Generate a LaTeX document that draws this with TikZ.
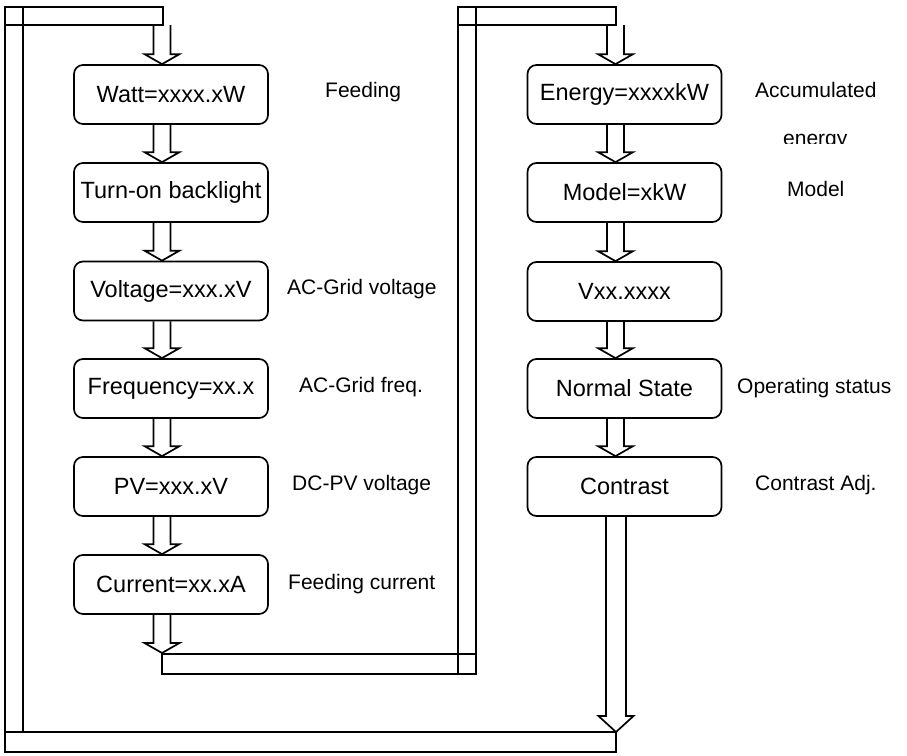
\documentclass[tikz,border=0pt]{standalone}
\usepackage{fontspec}
\setmainfont{Liberation Sans}
\usetikzlibrary{calc}
\tikzset{
  box/.style={draw, line width=1.7pt, rounded corners=9pt, minimum width=194pt, minimum height=59pt, inner sep=0pt, font=\fontsize{23.5}{28}\selectfont},
  lbl/.style={anchor=base west, inner sep=0pt, font=\fontsize{21}{25}\selectfont},
  band/.style={draw, line width=1.7pt, line join=miter},
}
% hollow arrow: #1 start point (only y used), #2 tip point, #3 shaft half width, #4 head length
\newcommand{\harr}[4]{%
  \draw[band] let \p1=(#1), \p2=(#2) in
    (\x2-#3pt,\y1) -- (\x2-#3pt,\y2+#4pt) -- (\x2-17.5pt,\y2+#4pt) -- (\x2,\y2)
    -- (\x2+17.5pt,\y2+#4pt) -- (\x2+#3pt,\y2+#4pt) -- (\x2+#3pt,\y1);}
\begin{document}
\begin{tikzpicture}[x=1pt,y=-1pt]
\useasboundingbox (0,0) rectangle (907,755);
\fill[white] (0,0) rectangle (907,755);

% left column
\node[box] (w1) at (171,94.5)  {Watt=xxxx.xW};
\node[box] (w2) at (171,192.5) {Turn-on backlight};
\node[box] (w3) at (171,291)   {Voltage=xxx.xV};
\node[box] (w4) at (171,388.5) {Frequency=xx.x};
\node[box] (w5) at (171,486.5) {PV=xxx.xV};
\node[box] (w6) at (171,584.5) {Current=xx.xA};

% right column
\node[box] (r1) at (624.5,94.5)  {Energy=xxxxkW};
\node[box] (r2) at (624.5,192.5) {Model=xkW};
\node[box] (r3) at (624.5,291.5) {Vxx.xxxx};
\node[box] (r4) at (624.5,388.5) {Normal State};
\node[box] (r5) at (624.5,486.5) {Contrast};

% side labels
\node[lbl] (l1) at (325,97)  {Feeding};
\node[lbl] (l2) at (287,294) {AC-Grid voltage};
\node[lbl] (l3) at (299,392) {AC-Grid freq.};
\node[lbl] (l4) at (292,490) {DC-PV voltage};
\node[lbl] (l5) at (288,589) {Feeding current};
\node[lbl] (l6) at (755,97)  {Accumulated};
\begin{scope}
  \clip (740,100) rectangle (907,143.5);
  \node[lbl] (l7) at (783,145) {energy};
\end{scope}
\node[lbl] (l8) at (787,196) {Model};
\node[lbl] (l9) at (737,393) {Operating status};
\node[lbl] (l10) at (755,490) {Contrast Adj.};

% loop coordinates
\coordinate (oA) at (5,7);
\coordinate (oB) at (23,732);
\coordinate (oC) at (163,25);
\coordinate (oD) at (5,732);
\coordinate (oE) at (616,752);
\coordinate (mA) at (458,7);
\coordinate (mB) at (476,674);
\coordinate (mC) at (616,25);
\coordinate (mD) at (162,654);
\coordinate (tipL) at (162,653);
\coordinate (tipB) at (616,732);

% outer loop bands
\draw[band] (oA) rectangle (oB);
\draw[band] (oA) rectangle (oC);
\draw[band] (oD) rectangle (oE);
% middle loop bands
\draw[band] (mA) rectangle (mB);
\draw[band] (mA) rectangle (mC);
\draw[band] (mD) rectangle (mB);

% entry arrows
\harr{oC}{$(w1.north)+(-9,0)$}{8.5}{10}
\harr{mC}{$(r1.north)+(-9,0)$}{8.5}{10}

% left column arrows
\harr{w1.south}{$(w2.north)+(-9,0)$}{8.5}{10}
\harr{w2.south}{$(w3.north)+(-9,0)$}{8.5}{10}
\harr{w3.south}{$(w4.north)+(-9,0)$}{8.5}{10}
\harr{w4.south}{$(w5.north)+(-9,0)$}{8.5}{10}
\harr{w5.south}{$(w6.north)+(-9,0)$}{8.5}{10}
\harr{w6.south}{tipL}{8.5}{10}

% right column arrows
\harr{r1.south}{$(r2.north)+(-9,0)$}{8.5}{10}
\harr{r2.south}{$(r3.north)+(-9,0)$}{8.5}{10}
\harr{r3.south}{$(r4.north)+(-9,0)$}{8.5}{10}
\harr{r4.south}{$(r5.north)+(-9,0)$}{8.5}{10}
\harr{r5.south}{tipB}{10}{16}
\end{tikzpicture}
\end{document}
